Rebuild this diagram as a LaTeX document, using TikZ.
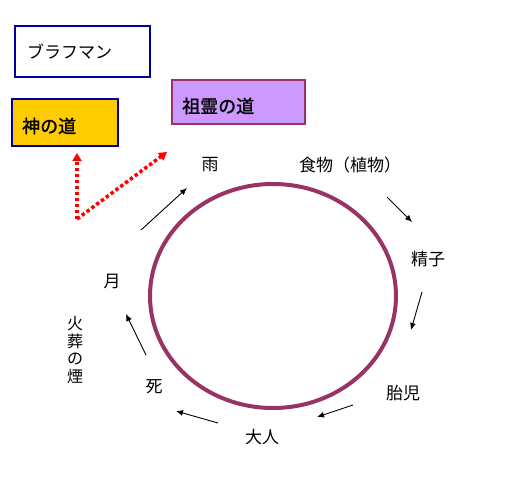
\documentclass[tikz,border=0pt]{standalone}
\usepackage{fontspec}
\newfontfamily\jp{Noto Sans CJK JP}
\newfontfamily\jpb[FakeBold=1.3]{Noto Sans CJK JP}
\usetikzlibrary{arrows.meta}
\definecolor{boxblue}{HTML}{0000A0}
\definecolor{gold}{HTML}{FFCC00}
\definecolor{lilac}{HTML}{CC99FF}
\definecolor{plum}{HTML}{993366}
\begin{document}
\begin{tikzpicture}[x=1pt,y=-1pt,
  lbl/.style={font=\jp\fontsize{17}{19}\selectfont, inner sep=0pt},
  blbl/.style={font=\jpb\fontsize{18}{20}\selectfont, inner sep=0pt},
  flow/.style={-{Latex[length=7pt,width=6pt]}, line width=0.9pt, black},
  red dots/.style={-{Triangle[length=8pt,width=9pt]}, red, line width=3.5pt, dash pattern=on 3.5pt off 2.5pt}]
\useasboundingbox[fill=white] (0,0) rectangle (511,487);
% boxes
\draw[boxblue, line width=1.6pt] (15,26) rectangle (150,77);
\node[lbl, anchor=west] (brahman) at (27,52) {ブラフマン};
\draw[boxblue, line width=1.6pt, fill=gold] (12,99) rectangle (118,146);
\node[blbl, anchor=west] (kami) at (22,126) {神の道};
\draw[plum, line width=2.5pt, fill=lilac] (172,80) rectangle (305,124);
\node[blbl, anchor=west] (sorei) at (182,106) {祖霊の道};
% circle
\draw[plum, line width=4pt] (273,296) ellipse [x radius=123, y radius=112];
% labels
\node[lbl] (ame) at (210,165) {雨};
\node[lbl] (food) at (350,165) {食物（植物）};
\node[lbl] (seishi) at (428,259) {精子};
\node[lbl] (taiji) at (403,393) {胎児};
\node[lbl] (otona) at (262,437) {大人};
\node[lbl] (shi) at (154,387) {死};
\node[lbl] (tsuki) at (112,281) {月};
\node[lbl, align=center, font=\jp\fontsize{16}{17.5}\selectfont] (smoke) at (75,350) {火\\葬\\の\\煙};
% arrows
\coordinate (a1) at (141,230); \coordinate (a2) at (187,188);
\coordinate (b1) at (387,197); \coordinate (b2) at (412,222);
\coordinate (c1) at (422,292); \coordinate (c2) at (411,330);
\coordinate (d1) at (353,405); \coordinate (d2) at (317,417);
\coordinate (e1) at (218,423); \coordinate (e2) at (176,411);
\coordinate (f1) at (146,355); \coordinate (f2) at (126,314);
\draw[flow] (a1) -- (a2);
\draw[flow] (b1) -- (b2);
\draw[flow] (c1) -- (c2);
\draw[flow] (d1) -- (d2);
\draw[flow] (e1) -- (e2);
\draw[flow] (f1) -- (f2);
\coordinate (r0) at (77,219);
\coordinate (r1) at (77,153);
\coordinate (r2) at (167,152);
\draw[red dots] (r0) -- (r1);
\draw[red dots] (r0) -- (r2);
\end{tikzpicture}
\end{document}
